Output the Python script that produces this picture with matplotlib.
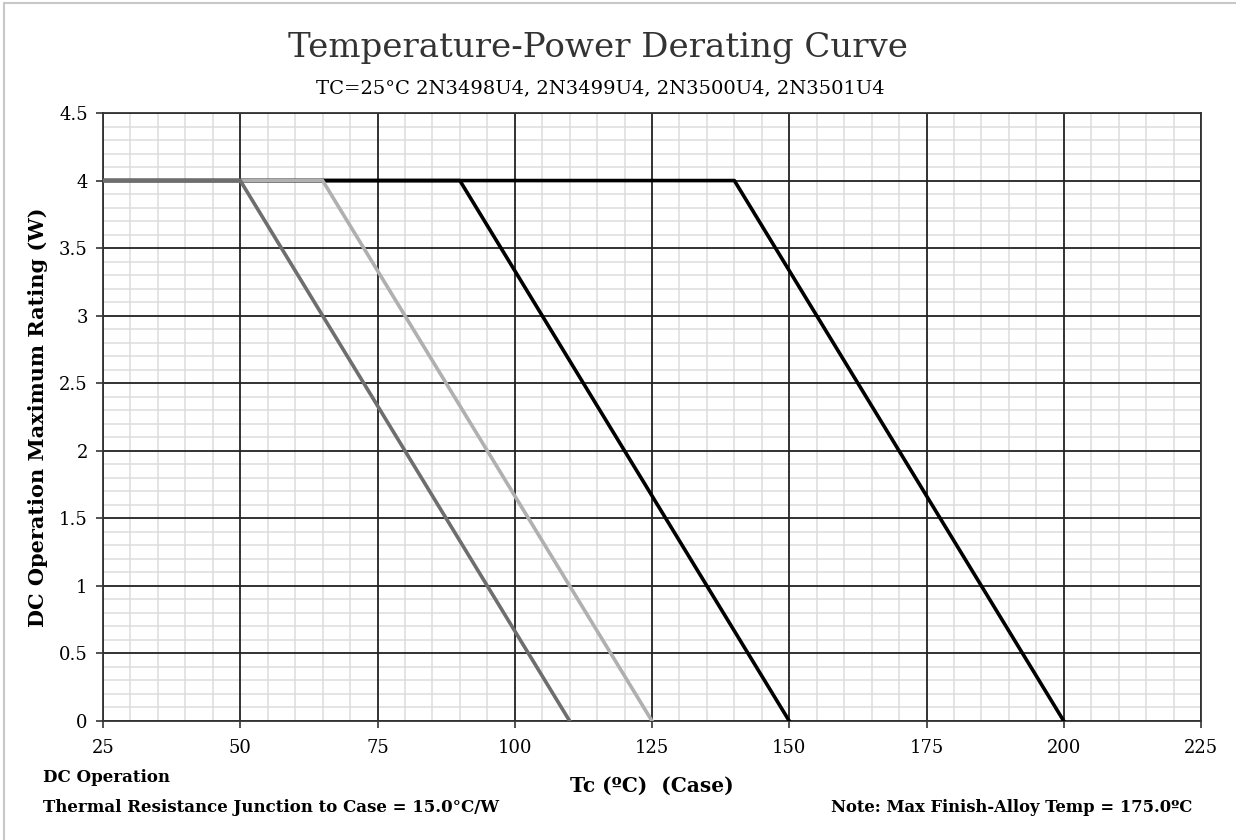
import matplotlib.pyplot as plt
from matplotlib.ticker import MultipleLocator
from matplotlib.patches import Rectangle

# derating curves: (Tc, W) knee points for each part
tc_3498 = [25, 140, 200]
pw_3498 = [4, 4, 0]
tc_3499 = [25, 90, 150]
pw_3499 = [4, 4, 0]
tc_3500 = [25, 65, 125]
pw_3500 = [4, 4, 0]
tc_3501 = [25, 50, 110]
pw_3501 = [4, 4, 0]

x_ticks = [25, 50, 75, 100, 125, 150, 175, 200, 225]
y_ticks = [0, 0.5, 1, 1.5, 2, 2.5, 3, 3.5, 4, 4.5]
y_labels = ['0', '0.5', '1', '1.5', '2', '2.5', '3', '3.5', '4', '4.5']

plt.rcParams['font.family'] = 'DejaVu Serif'

fig = plt.figure(figsize=(12.36, 8.4), dpi=100)
ax = fig.add_axes([103 / 1236, 1 - 721 / 840, 1098 / 1236, 608 / 840])

ax.plot(tc_3498, pw_3498, color='#000000', lw=2.6, zorder=3)
ax.plot(tc_3499, pw_3499, color='#000000', lw=2.6, zorder=3)
ax.plot(tc_3500, pw_3500, color='#b0b0b0', lw=2.6, zorder=3)
ax.plot(tc_3501, pw_3501, color='#6e6e6e', lw=2.6, zorder=3)

ax.set_xlim(25, 225)
ax.set_ylim(0, 4.5)
ax.set_xticks(x_ticks)
ax.set_yticks(y_ticks)
ax.set_yticklabels(y_labels)
ax.xaxis.set_minor_locator(MultipleLocator(5))
ax.yaxis.set_minor_locator(MultipleLocator(0.1))
ax.grid(which='minor', color='#dcdcdc', lw=1.1)
ax.set_axisbelow(True)
# major grid drawn as lines so the minor grid does not cut through it
for x in x_ticks:
    ax.axvline(x, color='#222222', lw=1.3, zorder=1.5)
for y in y_ticks:
    ax.axhline(y, color='#222222', lw=1.3, zorder=1.5)
ax.tick_params(which='minor', length=0)
ax.tick_params(which='major', length=5, width=1.2, color='#333333',
               labelsize=13, pad=6)
ax.tick_params(axis='x', pad=8)
for s in ax.spines.values():
    s.set_color('#333333')
    s.set_linewidth(1.3)

ax.set_ylabel('DC Operation Maximum Rating (W)', fontsize=15,
              fontweight='bold', labelpad=8)

fig.text(598 / 1236, 1 - 48 / 840, 'Temperature-Power Derating Curve',
         ha='center', va='center', fontsize=24.5, color='#333333')
fig.text(600 / 1236, 1 - 88 / 840, 'TC=25°C 2N3498U4, 2N3499U4, 2N3500U4, 2N3501U4',
         ha='center', va='center', fontsize=14)
fig.text(652 / 1236, 1 - 786 / 840, 'Tc (ºC)  (Case)', ha='center',
         va='center', fontsize=14.5, fontweight='bold')
fig.text(43 / 1236, 1 - 777 / 840, 'DC Operation', ha='left', va='center',
         fontsize=12, fontweight='bold')
fig.text(43 / 1236, 1 - 808 / 840, 'Thermal Resistance Junction to Case = 15.0°C/W',
         ha='left', va='center', fontsize=12, fontweight='bold')
fig.text(1192 / 1236, 1 - 808 / 840, 'Note: Max Finish-Alloy Temp = 175.0ºC',
         ha='right', va='center', fontsize=11.8, fontweight='bold')

fig.patches.append(Rectangle((0.003, -0.01), 1.1, 1.006, transform=fig.transFigure,
                             fill=False, edgecolor='#c8c8c8', lw=1.5))

fig.savefig('out.png', dpi=100)
